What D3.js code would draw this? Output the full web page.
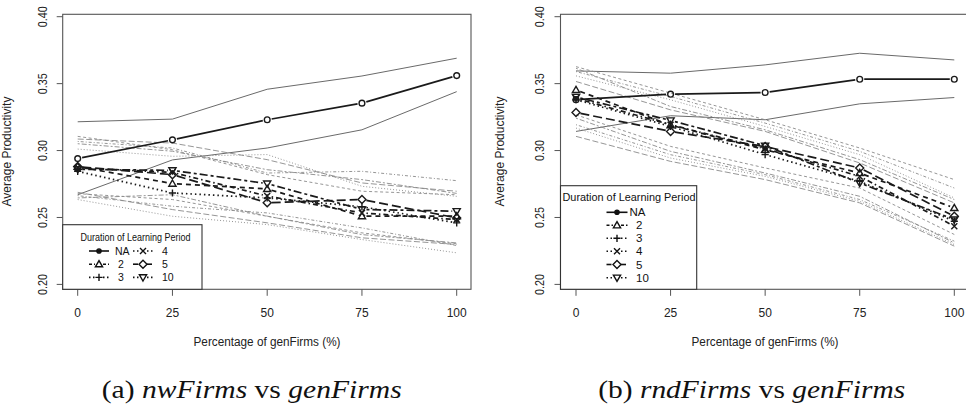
<!DOCTYPE html>
<html><head><meta charset="utf-8">
<script src="https://cdn.jsdelivr.net/npm/d3@7"></script>
<style>body{margin:0;background:#fff}svg{display:block}</style>
</head><body>
<svg id="c" width="966" height="411"></svg>
<script>
// ---------- data ----------
const xVals = [0, 25, 50, 75, 100];
const xTickLabels = ["0", "25", "50", "75", "100"];
const yTicks = [0.20, 0.25, 0.30, 0.35, 0.40];
const seriesNames = ["NA", "2", "3", "4", "5", "10"];

// (a) nwFirms vs genFirms : means
const nwMeanNA = [0.294, 0.308, 0.323, 0.3354, 0.356];
const nwMean2  = [0.288, 0.2753, 0.2713, 0.251, 0.251];
const nwMean3  = [0.2845, 0.2683, 0.2646, 0.258, 0.246];
const nwMean4  = [0.287, 0.2837, 0.266, 0.2534, 0.2484];
const nwMean5  = [0.288, 0.282, 0.261, 0.2634, 0.2497];
const nwMean10 = [0.286, 0.2852, 0.2753, 0.256, 0.2547];
// upper / lower band lines
const nwUpNA = [0.3215, 0.3235, 0.3458, 0.3557, 0.369];
const nwLoNA = [0.267, 0.293, 0.3019, 0.3155, 0.344];
const nwUp2  = [0.3106, 0.3006, 0.282, 0.2696, 0.267];
const nwLo2  = [0.2678, 0.2634, 0.2509, 0.2385, 0.2303];
const nwUp3  = [0.3011, 0.2957, 0.297, 0.2733, 0.2658];
const nwLo3  = [0.2634, 0.2509, 0.2447, 0.2335, 0.2236];
const nwUp4  = [0.3068, 0.3019, 0.2832, 0.2845, 0.2775];
const nwLo4  = [0.2663, 0.2584, 0.2534, 0.2422, 0.229];
const nwUp5  = [0.3086, 0.3056, 0.2932, 0.2758, 0.2696];
const nwLo5  = [0.2688, 0.2559, 0.246, 0.2348, 0.2298];
const nwUp10 = [0.3051, 0.2995, 0.2857, 0.2783, 0.268];
const nwLo10 = [0.2646, 0.267, 0.251, 0.2372, 0.231];

// (b) rndFirms vs genFirms : means
const rndMeanNA = [0.338, 0.3421, 0.3434, 0.3533, 0.3533];
const rndMean2  = [0.3453, 0.319, 0.3006, 0.2832, 0.2571];
const rndMean3  = [0.338, 0.318, 0.297, 0.277, 0.2472];
const rndMean4  = [0.339, 0.3193, 0.3014, 0.2807, 0.2435];
const rndMean5  = [0.3284, 0.3143, 0.303, 0.287, 0.2509];
const rndMean10 = [0.340, 0.3225, 0.3036, 0.2758, 0.2484];
const rndUpNA = [0.3595, 0.3578, 0.364, 0.3727, 0.3677];
const rndLoNA = [0.3143, 0.326, 0.323, 0.3349, 0.3396];
const rndUp2  = [0.3627, 0.3429, 0.323, 0.3019, 0.2783];
const rndLo2  = [0.3267, 0.3031, 0.287, 0.272, 0.2373];
const rndUp3  = [0.3558, 0.3379, 0.318, 0.2969, 0.2646];
const rndLo3  = [0.3168, 0.2944, 0.2807, 0.2621, 0.2298];
const rndUp4  = [0.359, 0.3404, 0.3205, 0.2994, 0.272];
const rndLo4  = [0.3193, 0.2969, 0.282, 0.2634, 0.2323];
const rndUp5  = [0.3516, 0.3304, 0.3143, 0.2907, 0.2609];
const rndLo5  = [0.3106, 0.2919, 0.2783, 0.2609, 0.2286];
const rndUp10 = [0.3615, 0.3329, 0.3155, 0.2932, 0.2634];
const rndLo10 = [0.3242, 0.2994, 0.2832, 0.2658, 0.231];

const legendTitle = "Duration of Learning Period";
const yLabel = "Average Productivity";
const xLabel = "Percentage of genFirms (%)";

// ---------- styles ----------
const styleOf = {
  "NA": {sym: "circle", dash: null, bdash: null},
  "2":  {sym: "tri", dash: "5,4", bdash: "3,2.5"},
  "3":  {sym: "plus", dash: "1.5,3", bdash: "1,2"},
  "4":  {sym: "cross", dash: "1.5,3,5,3", bdash: "1,2,3,2"},
  "5":  {sym: "diamond", dash: "9,4", bdash: "6,2.5"},
  "10": {sym: "dtri", dash: "3,3,8,3", bdash: "2,2,5,2"}
};
function symPath(t) {
  switch (t) {
    case "tri": return "M0,-3.6L3.6,2.6L-3.6,2.6Z";
    case "dtri": return "M0,3.6L3.6,-2.6L-3.6,-2.6Z";
    case "plus": return "M-3.6,0H3.6M0,-3.6V3.6";
    case "cross": return "M-3,-3L3,3M-3,3L3,-3";
    case "diamond": return "M0,-4L4,0L0,4L-4,0Z";
    case "dot": return d3.symbol(d3.symbolCircle, 14)();
    default: return d3.symbol(d3.symbolCircle, 26)();
  }
}

const panels = [
  {
    means: [nwMeanNA, nwMean2, nwMean3, nwMean4, nwMean5, nwMean10],
    ups: [nwUpNA, nwUp2, nwUp3, nwUp4, nwUp5, nwUp10],
    los: [nwLoNA, nwLo2, nwLo3, nwLo4, nwLo5, nwLo10],
    xr: [77.7, 456.7], box: [62.7, 14.3, 471, 289.3],
    ytx: 43, ylx: 6.5, xlx: 267,
    caption: [["(a) ", "normal"], ["nwFirms", "italic"], [" vs ", "normal"], ["genFirms", "italic"]],
    capX: 251.7, capW: 300,
    legend: {rect: [62.7, 224.7, 202, 289.3], title: [135.5, 240.5, 110], fs: 10.5,
      items: [
        {n: "NA", x1: 89, x2: 109, lx: 115, y: 251},
        {n: "2", x1: 89, x2: 109, lx: 118, y: 264.2},
        {n: "3", x1: 89, x2: 109, lx: 118, y: 277.4},
        {n: "4", x1: 133, x2: 153, lx: 162, y: 251},
        {n: "5", x1: 133, x2: 153, lx: 162, y: 264.2},
        {n: "10", x1: 133, x2: 153, lx: 162, y: 277.4}
      ]}
  },
  {
    means: [rndMeanNA, rndMean2, rndMean3, rndMean4, rndMean5, rndMean10],
    ups: [rndUpNA, rndUp2, rndUp3, rndUp4, rndUp5, rndUp10],
    los: [rndLoNA, rndLo2, rndLo3, rndLo4, rndLo5, rndLo10],
    xr: [576, 954.3], box: [560.5, 14.3, 969.5, 289.3],
    ytx: 539.3, ylx: 500, xlx: 765,
    caption: [["(b) ", "normal"], ["rndFirms", "italic"], [" vs ", "normal"], ["genFirms", "italic"]],
    capX: 751.7, capW: 307,
    legend: {rect: [560.5, 185.7, 696.7, 289.3], title: [629, 200.5, 133], fs: 11.5,
      items: [
        {n: "NA", x1: 606.5, x2: 627.5, lx: 629.5, y: 212.3},
        {n: "2", x1: 606.5, x2: 627.5, lx: 636, y: 225.3},
        {n: "3", x1: 606.5, x2: 627.5, lx: 636, y: 238.3},
        {n: "4", x1: 606.5, x2: 627.5, lx: 636, y: 251.3},
        {n: "5", x1: 606.5, x2: 627.5, lx: 636, y: 264.5},
        {n: "10", x1: 606.5, x2: 627.5, lx: 636, y: 277.7}
      ]}
  }
];

const svg = d3.select("#c");
const FONT = "'Liberation Sans', Arial, sans-serif";
const y = d3.scaleLinear().domain([0.20, 0.40]).range([284.4, 16.7]);

function gapSegments(pts, gap) {
  const segs = [];
  for (let i = 0; i < pts.length - 1; i++) {
    const [x1, y1] = pts[i], [x2, y2] = pts[i + 1];
    const dx = x2 - x1, dy = y2 - y1, L = Math.hypot(dx, dy);
    const ux = dx / L, uy = dy / L;
    segs.push([[x1 + ux * gap, y1 + uy * gap], [x2 - ux * gap, y2 - uy * gap]]);
  }
  return segs;
}

panels.forEach(p => {
  const x = d3.scaleLinear().domain([0, 100]).range(p.xr);
  const g = svg.append("g");
  const [bx0, by0, bx1, by1] = p.box;
  const line = d3.line().x((d, i) => x(xVals[i])).y(d => y(d));

  // band lines
  seriesNames.forEach((n, k) => {
    const st = styleOf[n];
    [p.ups[k], p.los[k]].forEach(arr => {
      g.append("path").attr("d", line(arr)).attr("fill", "none")
        .attr("stroke", n === "NA" ? "#6a6a6a" : "#8a8a8a")
        .attr("stroke-width", n === "NA" ? 1 : 0.9)
        .attr("stroke-dasharray", st.bdash);
    });
  });

  // mean lines with gaps (type = "b")
  seriesNames.forEach((n, k) => {
    const st = styleOf[n];
    const pts = p.means[k].map((v, i) => [x(xVals[i]), y(v)]);
    gapSegments(pts, 4.5).forEach(s => {
      g.append("line").attr("x1", s[0][0]).attr("y1", s[0][1])
        .attr("x2", s[1][0]).attr("y2", s[1][1])
        .attr("stroke", "#1a1a1a").attr("stroke-width", 1.7)
        .attr("stroke-dasharray", st.dash);
    });
    pts.forEach(pt => {
      g.append("path").attr("d", symPath(st.sym))
        .attr("transform", `translate(${pt[0]},${pt[1]})`)
        .attr("fill", "none").attr("stroke", "#1a1a1a").attr("stroke-width", 1.4);
    });
  });

  // box (frame)
  g.append("rect").attr("x", bx0).attr("y", by0)
    .attr("width", bx1 - bx0).attr("height", by1 - by0)
    .attr("fill", "none").attr("stroke", "#555").attr("stroke-width", 1.1);

  // y axis
  yTicks.forEach(t => {
    g.append("line").attr("x1", bx0 - 6).attr("x2", bx0).attr("y1", y(t)).attr("y2", y(t))
      .attr("stroke", "#555").attr("stroke-width", 1);
    g.append("text").attr("transform", `translate(${p.ytx},${y(t)}) rotate(-90)`)
      .attr("text-anchor", "middle").attr("dy", "0.35em")
      .attr("font-family", FONT).attr("font-size", 12).attr("fill", "#222")
      .attr("textLength", 21).attr("lengthAdjust", "spacingAndGlyphs")
      .text(d3.format(".2f")(t));
  });
  // x axis
  xVals.forEach((v, i) => {
    g.append("line").attr("x1", x(v)).attr("x2", x(v)).attr("y1", by1).attr("y2", by1 + 6.5)
      .attr("stroke", "#555").attr("stroke-width", 1);
    g.append("text").attr("x", x(v)).attr("y", 312.3).attr("dy", "0.35em")
      .attr("text-anchor", "middle").attr("font-family", FONT).attr("font-size", 12)
      .attr("fill", "#222").text(xTickLabels[i]);
  });
  g.append("text").attr("x", p.xlx).attr("y", 341.7).attr("dy", "0.35em")
    .attr("text-anchor", "middle").attr("font-family", FONT).attr("font-size", 12)
    .attr("fill", "#222").attr("textLength", 147).attr("lengthAdjust", "spacingAndGlyphs")
    .text(xLabel);
  g.append("text").attr("transform", `translate(${p.ylx},151.5) rotate(-90)`)
    .attr("text-anchor", "middle").attr("dy", "0.35em")
    .attr("font-family", FONT).attr("font-size", 12).attr("fill", "#222")
    .text(yLabel);

  // legend
  const L = p.legend;
  g.append("rect").attr("x", L.rect[0]).attr("y", L.rect[1])
    .attr("width", L.rect[2] - L.rect[0]).attr("height", L.rect[3] - L.rect[1])
    .attr("fill", "#fff").attr("stroke", "#333").attr("stroke-width", 1.1);
  g.append("text").attr("x", L.title[0]).attr("y", L.title[1])
    .attr("text-anchor", "middle").attr("font-family", FONT).attr("font-size", L.fs)
    .attr("fill", "#111").attr("textLength", L.title[2]).attr("lengthAdjust", "spacingAndGlyphs")
    .text(legendTitle);
  L.items.forEach(it => {
    const st = styleOf[it.n];
    const cx = (it.x1 + it.x2) / 2;
    [[it.x1, cx - 4], [cx + 4, it.x2]].forEach(s => {
      g.append("line").attr("x1", s[0]).attr("x2", s[1]).attr("y1", it.y).attr("y2", it.y)
        .attr("stroke", "#111").attr("stroke-width", 1.6)
        .attr("stroke-dasharray", st.dash === null ? null : (it.n === "5" ? "5,2" : st.dash === "5,4" ? "3,2" : "1.5,2.5"));
    });
    if (it.n === "NA") {
      g.append("line").attr("x1", cx - 4).attr("x2", cx + 4).attr("y1", it.y).attr("y2", it.y)
        .attr("stroke", "#111").attr("stroke-width", 1.6);
    }
    g.append("path").attr("d", symPath(it.n === "NA" ? "dot" : st.sym))
      .attr("transform", `translate(${cx},${it.y})`)
      .attr("fill", it.n === "NA" ? "#111" : "none").attr("stroke", "#111").attr("stroke-width", 1.4);
    g.append("text").attr("x", it.lx).attr("y", it.y).attr("dy", "0.35em")
      .attr("font-family", FONT).attr("font-size", L.fs).attr("fill", "#111")
      .text(it.n);
  });

  // caption
  const cap = svg.append("text").attr("x", p.capX).attr("y", 398)
    .attr("text-anchor", "middle").attr("font-family", "'Liberation Serif', 'DejaVu Serif', serif")
    .attr("font-size", 25).attr("fill", "#111")
    .attr("textLength", p.capW).attr("lengthAdjust", "spacingAndGlyphs");
  p.caption.forEach(c => cap.append("tspan").attr("font-style", c[1]).text(c[0]));
});
</script>
</body></html>
